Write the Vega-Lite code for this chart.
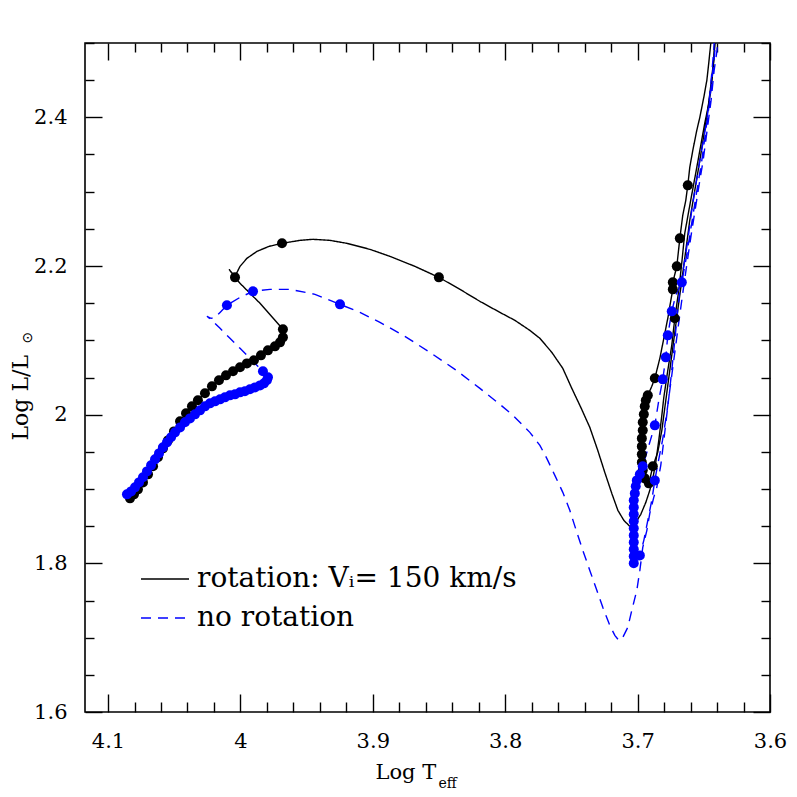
{
"$schema": "https://vega.github.io/schema/vega-lite/v6.json",
"width": 685, "height": 669,
"autosize": {"type": "none"},
"padding": {"left": 85, "top": 43, "right": 27, "bottom": 85},
"background": "white",
"config": {
 "view": {"stroke": "black", "strokeWidth": 1.6},
 "axis": {"labelFont": "DejaVu Serif", "labelFontSize": 21, "labelColor": "black", "tickColor": "black", "tickWidth": 1.4, "domain": false, "grid": false, "titleFont": "DejaVu Serif", "titleFontSize": 21, "titleFontWeight": "normal", "titleColor": "black", "labelFlush": false, "labelOverlap": false, "labelBound": false}
},
"data": {"values": [
{"t":"rot","s":"r1","i":1,"x":4.0834,"y":1.8874,"d":1},
{"t":"rot","s":"r1","i":2,"x":4.0804,"y":1.8928,"d":1},
{"t":"rot","s":"r1","i":3,"x":4.0774,"y":1.8995,"d":1},
{"t":"rot","s":"r1","i":4,"x":4.0736,"y":1.9089,"d":1},
{"t":"rot","s":"r1","i":5,"x":4.0698,"y":1.9197,"d":1},
{"t":"rot","s":"r1","i":6,"x":4.0660,"y":1.9305,"d":1},
{"t":"rot","s":"r1","i":7,"x":4.0623,"y":1.9426,"d":1},
{"t":"rot","s":"r1","i":8,"x":4.0585,"y":1.9547,"d":1},
{"t":"rot","s":"r1","i":9,"x":4.0547,"y":1.9654,"d":1},
{"t":"rot","s":"r1","i":10,"x":4.0502,"y":1.9775,"d":1},
{"t":"rot","s":"r1","i":11,"x":4.0456,"y":1.9910,"d":1},
{"t":"rot","s":"r1","i":12,"x":4.0411,"y":2.0018,"d":1},
{"t":"rot","s":"r1","i":13,"x":4.0366,"y":2.0112,"d":1},
{"t":"rot","s":"r1","i":14,"x":4.0321,"y":2.0193,"d":1},
{"t":"rot","s":"r1","i":15,"x":4.0268,"y":2.0287,"d":1},
{"t":"rot","s":"r1","i":16,"x":4.0215,"y":2.0381,"d":1},
{"t":"rot","s":"r1","i":17,"x":4.0162,"y":2.0462,"d":1},
{"t":"rot","s":"r1","i":18,"x":4.0109,"y":2.0529,"d":1},
{"t":"rot","s":"r1","i":19,"x":4.0056,"y":2.0583,"d":1},
{"t":"rot","s":"r1","i":20,"x":4.0003,"y":2.0637,"d":1},
{"t":"rot","s":"r1","i":21,"x":3.9951,"y":2.0690,"d":1},
{"t":"rot","s":"r1","i":22,"x":3.9898,"y":2.0731,"d":1},
{"t":"rot","s":"r1","i":23,"x":3.9845,"y":2.0798,"d":1},
{"t":"rot","s":"r1","i":24,"x":3.9792,"y":2.0865,"d":1},
{"t":"rot","s":"r1","i":25,"x":3.9739,"y":2.0919,"d":1},
{"t":"rot","s":"r1","i":26,"x":3.9701,"y":2.0973,"d":1},
{"t":"rot","s":"r1","i":27,"x":3.9679,"y":2.1040,"d":1},
{"t":"rot","s":"r1","i":28,"x":3.9679,"y":2.1148,"d":1},
{"t":"rot","s":"r1","i":29,"x":3.9852,"y":2.1498,"d":0},
{"t":"rot","s":"r1","i":30,"x":4.0003,"y":2.1767,"d":0},
{"t":"rot","s":"r1","i":31,"x":4.0041,"y":2.1847,"d":1},
{"t":"rot","s":"r1","i":32,"x":4.0086,"y":2.1955,"d":0},
{"t":"rot","s":"r1","i":33,"x":4.0041,"y":2.1861,"d":0},
{"t":"rot","s":"r1","i":34,"x":4.0003,"y":2.1995,"d":0},
{"t":"rot","s":"r1","i":35,"x":3.9951,"y":2.2103,"d":0},
{"t":"rot","s":"r1","i":36,"x":3.9875,"y":2.2197,"d":0},
{"t":"rot","s":"r1","i":37,"x":3.9784,"y":2.2264,"d":0},
{"t":"rot","s":"r1","i":38,"x":3.9686,"y":2.2305,"d":1},
{"t":"rot","s":"r1","i":39,"x":3.9550,"y":2.2345,"d":0},
{"t":"rot","s":"r1","i":40,"x":3.9452,"y":2.2359,"d":0},
{"t":"rot","s":"r1","i":41,"x":3.9324,"y":2.2345,"d":0},
{"t":"rot","s":"r1","i":42,"x":3.9196,"y":2.2305,"d":0},
{"t":"rot","s":"r1","i":43,"x":3.9022,"y":2.2224,"d":0},
{"t":"rot","s":"r1","i":44,"x":3.8871,"y":2.2130,"d":0},
{"t":"rot","s":"r1","i":45,"x":3.8682,"y":2.1995,"d":0},
{"t":"rot","s":"r1","i":46,"x":3.8501,"y":2.1847,"d":1},
{"t":"rot","s":"r1","i":47,"x":3.8342,"y":2.1686,"d":0},
{"t":"rot","s":"r1","i":48,"x":3.8191,"y":2.1524,"d":0},
{"t":"rot","s":"r1","i":49,"x":3.8040,"y":2.1376,"d":0},
{"t":"rot","s":"r1","i":50,"x":3.7927,"y":2.1269,"d":0},
{"t":"rot","s":"r1","i":51,"x":3.7814,"y":2.1134,"d":0},
{"t":"rot","s":"r1","i":52,"x":3.7738,"y":2.1027,"d":0},
{"t":"rot","s":"r1","i":53,"x":3.7648,"y":2.0838,"d":0},
{"t":"rot","s":"r1","i":54,"x":3.7565,"y":2.0623,"d":0},
{"t":"rot","s":"r1","i":55,"x":3.7497,"y":2.0354,"d":0},
{"t":"rot","s":"r1","i":56,"x":3.7429,"y":2.0098,"d":0},
{"t":"rot","s":"r1","i":57,"x":3.7361,"y":1.9829,"d":0},
{"t":"rot","s":"r1","i":58,"x":3.7301,"y":1.9520,"d":0},
{"t":"rot","s":"r1","i":59,"x":3.7248,"y":1.9224,"d":0},
{"t":"rot","s":"r1","i":60,"x":3.7195,"y":1.8941,"d":0},
{"t":"rot","s":"r1","i":61,"x":3.7149,"y":1.8713,"d":0},
{"t":"rot","s":"r1","i":62,"x":3.7104,"y":1.8578,"d":0},
{"t":"rot","s":"r1","i":63,"x":3.7059,"y":1.8498,"d":0},
{"t":"rot","s":"r1","i":64,"x":3.7014,"y":1.8551,"d":0},
{"t":"rot","s":"r1","i":65,"x":3.6976,"y":1.8659,"d":0},
{"t":"rot","s":"r1","i":66,"x":3.6938,"y":1.8820,"d":0},
{"t":"rot","s":"r1","i":67,"x":3.6908,"y":1.8982,"d":0},
{"t":"rot","s":"r1","i":68,"x":3.6885,"y":1.9143,"d":0},
{"t":"rot","s":"r1","i":69,"x":3.6863,"y":1.9358,"d":0},
{"t":"rot","s":"r1","i":70,"x":3.6840,"y":1.9654,"d":0},
{"t":"rot","s":"r1","i":71,"x":3.6817,"y":1.9991,"d":0},
{"t":"rot","s":"r1","i":72,"x":3.6802,"y":2.0233,"d":0},
{"t":"rot","s":"r1","i":73,"x":3.6772,"y":2.0596,"d":0},
{"t":"rot","s":"r1","i":74,"x":3.6742,"y":2.0933,"d":0},
{"t":"rot","s":"r1","i":75,"x":3.6719,"y":2.1296,"d":1},
{"t":"rot","s":"r1","i":76,"x":3.6689,"y":2.1672,"d":0},
{"t":"rot","s":"r1","i":77,"x":3.6666,"y":2.2049,"d":0},
{"t":"rot","s":"r1","i":78,"x":3.6644,"y":2.2439,"d":0},
{"t":"rot","s":"r1","i":79,"x":3.6599,"y":2.2883,"d":0},
{"t":"rot","s":"r1","i":80,"x":3.6553,"y":2.3327,"d":0},
{"t":"rot","s":"r1","i":81,"x":3.6523,"y":2.3623,"d":0},
{"t":"rot","s":"r1","i":82,"x":3.6493,"y":2.3919,"d":0},
{"t":"rot","s":"r1","i":83,"x":3.6462,"y":2.4188,"d":0},
{"t":"rot","s":"r1","i":84,"x":3.6440,"y":2.4457,"d":0},
{"t":"rot","s":"r1","i":85,"x":3.6425,"y":2.4767,"d":0},
{"t":"rot","s":"r1","i":86,"x":3.6417,"y":2.5000,"d":0},
{"t":"rot","s":"r1","i":87,"x":3.6406,"y":2.5200,"d":0},
{"t":"rot","s":"r2","i":88,"x":3.6410,"y":2.5171,"d":0},
{"t":"rot","s":"r2","i":89,"x":3.6425,"y":2.4767,"d":0},
{"t":"rot","s":"r2","i":90,"x":3.6447,"y":2.4430,"d":0},
{"t":"rot","s":"r2","i":91,"x":3.6470,"y":2.4094,"d":0},
{"t":"rot","s":"r2","i":92,"x":3.6500,"y":2.3758,"d":0},
{"t":"rot","s":"r2","i":93,"x":3.6530,"y":2.3421,"d":0},
{"t":"rot","s":"r2","i":94,"x":3.6568,"y":2.3018,"d":0},
{"t":"rot","s":"r2","i":95,"x":3.6606,"y":2.2614,"d":0},
{"t":"rot","s":"r2","i":96,"x":3.6636,"y":2.2211,"d":0},
{"t":"rot","s":"r2","i":97,"x":3.6666,"y":2.1807,"d":0},
{"t":"rot","s":"r2","i":98,"x":3.6697,"y":2.1403,"d":0},
{"t":"rot","s":"r2","i":99,"x":3.6727,"y":2.1000,"d":0},
{"t":"rot","s":"r2","i":100,"x":3.6757,"y":2.0596,"d":0},
{"t":"rot","s":"r2","i":101,"x":3.6787,"y":2.0193,"d":0},
{"t":"rot","s":"r2","i":102,"x":3.6817,"y":1.9789,"d":0},
{"t":"rot","s":"r2","i":103,"x":3.6848,"y":1.9493,"d":0},
{"t":"rot","s":"r2","i":104,"x":3.6885,"y":1.9305,"d":1},
{"t":"rot","s":"r2","i":105,"x":3.6915,"y":1.9076,"d":1},
{"t":"rot","s":"r2","i":106,"x":3.6946,"y":1.9143,"d":1},
{"t":"rot","s":"r2","i":107,"x":3.6961,"y":1.9251,"d":1},
{"t":"rot","s":"r2","i":108,"x":3.6968,"y":1.9358,"d":1},
{"t":"rot","s":"r2","i":109,"x":3.6968,"y":1.9466,"d":1},
{"t":"rot","s":"r2","i":110,"x":3.6968,"y":1.9573,"d":1},
{"t":"rot","s":"r2","i":111,"x":3.6968,"y":1.9681,"d":1},
{"t":"rot","s":"r2","i":112,"x":3.6961,"y":1.9789,"d":1},
{"t":"rot","s":"r2","i":113,"x":3.6961,"y":1.9897,"d":1},
{"t":"rot","s":"r2","i":114,"x":3.6953,"y":2.0004,"d":1},
{"t":"rot","s":"r2","i":115,"x":3.6946,"y":2.0112,"d":1},
{"t":"rot","s":"r2","i":116,"x":3.6938,"y":2.0193,"d":1},
{"t":"rot","s":"r2","i":117,"x":3.6923,"y":2.0260,"d":1},
{"t":"rot","s":"r2","i":118,"x":3.6893,"y":2.0381,"d":0},
{"t":"rot","s":"r2","i":119,"x":3.6870,"y":2.0489,"d":1},
{"t":"rot","s":"r2","i":120,"x":3.6832,"y":2.0758,"d":0},
{"t":"rot","s":"r2","i":121,"x":3.6802,"y":2.1027,"d":0},
{"t":"rot","s":"r2","i":122,"x":3.6772,"y":2.1296,"d":0},
{"t":"rot","s":"r2","i":123,"x":3.6749,"y":2.1538,"d":0},
{"t":"rot","s":"r2","i":124,"x":3.6734,"y":2.1686,"d":1},
{"t":"rot","s":"r2","i":125,"x":3.6734,"y":2.1780,"d":1},
{"t":"rot","s":"r2","i":126,"x":3.6704,"y":2.1995,"d":1},
{"t":"rot","s":"r2","i":127,"x":3.6681,"y":2.2372,"d":1},
{"t":"rot","s":"r2","i":128,"x":3.6659,"y":2.2682,"d":0},
{"t":"rot","s":"r2","i":129,"x":3.6636,"y":2.2883,"d":0},
{"t":"rot","s":"r2","i":130,"x":3.6621,"y":2.3085,"d":1},
{"t":"rot","s":"r2","i":131,"x":3.6606,"y":2.3327,"d":0},
{"t":"rot","s":"r2","i":132,"x":3.6583,"y":2.3556,"d":0},
{"t":"rot","s":"r2","i":133,"x":3.6553,"y":2.3825,"d":0},
{"t":"rot","s":"r2","i":134,"x":3.6530,"y":2.4000,"d":0},
{"t":"rot","s":"r2","i":135,"x":3.6500,"y":2.4269,"d":0},
{"t":"rot","s":"r2","i":136,"x":3.6477,"y":2.4498,"d":0},
{"t":"rot","s":"r2","i":137,"x":3.6462,"y":2.4740,"d":0},
{"t":"rot","s":"r2","i":138,"x":3.6447,"y":2.5000,"d":0},
{"t":"rot","s":"r2","i":139,"x":3.6440,"y":2.5171,"d":0},
{"t":"norot","s":"n1","i":140,"x":4.0857,"y":1.8928,"d":1},
{"t":"norot","s":"n1","i":141,"x":4.0826,"y":1.8968,"d":1},
{"t":"norot","s":"n1","i":142,"x":4.0796,"y":1.9022,"d":1},
{"t":"norot","s":"n1","i":143,"x":4.0766,"y":1.9089,"d":1},
{"t":"norot","s":"n1","i":144,"x":4.0736,"y":1.9157,"d":1},
{"t":"norot","s":"n1","i":145,"x":4.0706,"y":1.9237,"d":1},
{"t":"norot","s":"n1","i":146,"x":4.0675,"y":1.9318,"d":1},
{"t":"norot","s":"n1","i":147,"x":4.0645,"y":1.9399,"d":1},
{"t":"norot","s":"n1","i":148,"x":4.0615,"y":1.9479,"d":1},
{"t":"norot","s":"n1","i":149,"x":4.0585,"y":1.9560,"d":1},
{"t":"norot","s":"n1","i":150,"x":4.0555,"y":1.9627,"d":1},
{"t":"norot","s":"n1","i":151,"x":4.0524,"y":1.9695,"d":1},
{"t":"norot","s":"n1","i":152,"x":4.0494,"y":1.9762,"d":1},
{"t":"norot","s":"n1","i":153,"x":4.0456,"y":1.9829,"d":1},
{"t":"norot","s":"n1","i":154,"x":4.0419,"y":1.9897,"d":1},
{"t":"norot","s":"n1","i":155,"x":4.0381,"y":1.9950,"d":1},
{"t":"norot","s":"n1","i":156,"x":4.0343,"y":2.0004,"d":1},
{"t":"norot","s":"n1","i":157,"x":4.0305,"y":2.0058,"d":1},
{"t":"norot","s":"n1","i":158,"x":4.0268,"y":2.0112,"d":1},
{"t":"norot","s":"n1","i":159,"x":4.0230,"y":2.0152,"d":1},
{"t":"norot","s":"n1","i":160,"x":4.0192,"y":2.0179,"d":1},
{"t":"norot","s":"n1","i":161,"x":4.0154,"y":2.0206,"d":1},
{"t":"norot","s":"n1","i":162,"x":4.0117,"y":2.0233,"d":1},
{"t":"norot","s":"n1","i":163,"x":4.0079,"y":2.0260,"d":1},
{"t":"norot","s":"n1","i":164,"x":4.0041,"y":2.0273,"d":1},
{"t":"norot","s":"n1","i":165,"x":4.0003,"y":2.0300,"d":1},
{"t":"norot","s":"n1","i":166,"x":3.9966,"y":2.0314,"d":1},
{"t":"norot","s":"n1","i":167,"x":3.9928,"y":2.0341,"d":1},
{"t":"norot","s":"n1","i":168,"x":3.9890,"y":2.0367,"d":1},
{"t":"norot","s":"n1","i":169,"x":3.9852,"y":2.0394,"d":1},
{"t":"norot","s":"n1","i":170,"x":3.9822,"y":2.0421,"d":1},
{"t":"norot","s":"n1","i":171,"x":3.9800,"y":2.0462,"d":1},
{"t":"norot","s":"n1","i":172,"x":3.9792,"y":2.0502,"d":1},
{"t":"norot","s":"n1","i":173,"x":3.9830,"y":2.0583,"d":1},
{"t":"norot","s":"n1","i":174,"x":3.9868,"y":2.0650,"d":0},
{"t":"norot","s":"n1","i":175,"x":3.9928,"y":2.0758,"d":0},
{"t":"norot","s":"n1","i":176,"x":4.0003,"y":2.0892,"d":0},
{"t":"norot","s":"n1","i":177,"x":4.0079,"y":2.1027,"d":0},
{"t":"norot","s":"n1","i":178,"x":4.0154,"y":2.1161,"d":0},
{"t":"norot","s":"n1","i":179,"x":4.0207,"y":2.1255,"d":0},
{"t":"norot","s":"n1","i":180,"x":4.0253,"y":2.1323,"d":0},
{"t":"norot","s":"n1","i":181,"x":4.0222,"y":2.1296,"d":0},
{"t":"norot","s":"n1","i":182,"x":4.0192,"y":2.1309,"d":0},
{"t":"norot","s":"n1","i":183,"x":4.0154,"y":2.1376,"d":0},
{"t":"norot","s":"n1","i":184,"x":4.0102,"y":2.1471,"d":1},
{"t":"norot","s":"n1","i":185,"x":4.0003,"y":2.1578,"d":0},
{"t":"norot","s":"n1","i":186,"x":3.9905,"y":2.1659,"d":1},
{"t":"norot","s":"n1","i":187,"x":3.9777,"y":2.1686,"d":0},
{"t":"norot","s":"n1","i":188,"x":3.9626,"y":2.1686,"d":0},
{"t":"norot","s":"n1","i":189,"x":3.9437,"y":2.1619,"d":0},
{"t":"norot","s":"n1","i":190,"x":3.9248,"y":2.1484,"d":1},
{"t":"norot","s":"n1","i":191,"x":3.9097,"y":2.1376,"d":0},
{"t":"norot","s":"n1","i":192,"x":3.8946,"y":2.1242,"d":0},
{"t":"norot","s":"n1","i":193,"x":3.8758,"y":2.1054,"d":0},
{"t":"norot","s":"n1","i":194,"x":3.8569,"y":2.0838,"d":0},
{"t":"norot","s":"n1","i":195,"x":3.8380,"y":2.0610,"d":0},
{"t":"norot","s":"n1","i":196,"x":3.8191,"y":2.0354,"d":0},
{"t":"norot","s":"n1","i":197,"x":3.8040,"y":2.0139,"d":0},
{"t":"norot","s":"n1","i":198,"x":3.7942,"y":1.9991,"d":0},
{"t":"norot","s":"n1","i":199,"x":3.7814,"y":1.9762,"d":0},
{"t":"norot","s":"n1","i":200,"x":3.7738,"y":1.9587,"d":0},
{"t":"norot","s":"n1","i":201,"x":3.7686,"y":1.9412,"d":0},
{"t":"norot","s":"n1","i":202,"x":3.7625,"y":1.9183,"d":0},
{"t":"norot","s":"n1","i":203,"x":3.7565,"y":1.8955,"d":0},
{"t":"norot","s":"n1","i":204,"x":3.7512,"y":1.8713,"d":0},
{"t":"norot","s":"n1","i":205,"x":3.7459,"y":1.8417,"d":0},
{"t":"norot","s":"n1","i":206,"x":3.7414,"y":1.8175,"d":0},
{"t":"norot","s":"n1","i":207,"x":3.7361,"y":1.7905,"d":0},
{"t":"norot","s":"n1","i":208,"x":3.7308,"y":1.7637,"d":0},
{"t":"norot","s":"n1","i":209,"x":3.7263,"y":1.7408,"d":0},
{"t":"norot","s":"n1","i":210,"x":3.7210,"y":1.7165,"d":0},
{"t":"norot","s":"n1","i":211,"x":3.7172,"y":1.7031,"d":0},
{"t":"norot","s":"n1","i":212,"x":3.7142,"y":1.6964,"d":0},
{"t":"norot","s":"n1","i":213,"x":3.7112,"y":1.7004,"d":0},
{"t":"norot","s":"n1","i":214,"x":3.7074,"y":1.7139,"d":0},
{"t":"norot","s":"n1","i":215,"x":3.7044,"y":1.7367,"d":0},
{"t":"norot","s":"n1","i":216,"x":3.7006,"y":1.7637,"d":0},
{"t":"norot","s":"n1","i":217,"x":3.6983,"y":1.7905,"d":0},
{"t":"norot","s":"n1","i":218,"x":3.6961,"y":1.8215,"d":0},
{"t":"norot","s":"n1","i":219,"x":3.6930,"y":1.8444,"d":0},
{"t":"norot","s":"n1","i":220,"x":3.6908,"y":1.8672,"d":0},
{"t":"norot","s":"n1","i":221,"x":3.6878,"y":1.8887,"d":0},
{"t":"norot","s":"n1","i":222,"x":3.6855,"y":1.9022,"d":0},
{"t":"norot","s":"n1","i":223,"x":3.6825,"y":1.9318,"d":0},
{"t":"norot","s":"n1","i":224,"x":3.6802,"y":1.9654,"d":0},
{"t":"norot","s":"n1","i":225,"x":3.6780,"y":1.9991,"d":0},
{"t":"norot","s":"n1","i":226,"x":3.6764,"y":2.0233,"d":0},
{"t":"norot","s":"n1","i":227,"x":3.6742,"y":2.0596,"d":0},
{"t":"norot","s":"n1","i":228,"x":3.6719,"y":2.1000,"d":0},
{"t":"norot","s":"n1","i":229,"x":3.6697,"y":2.1403,"d":0},
{"t":"norot","s":"n1","i":230,"x":3.6674,"y":2.1780,"d":0},
{"t":"norot","s":"n1","i":231,"x":3.6644,"y":2.2076,"d":0},
{"t":"norot","s":"n1","i":232,"x":3.6621,"y":2.2345,"d":0},
{"t":"norot","s":"n1","i":233,"x":3.6591,"y":2.2749,"d":0},
{"t":"norot","s":"n1","i":234,"x":3.6561,"y":2.3085,"d":0},
{"t":"norot","s":"n1","i":235,"x":3.6530,"y":2.3421,"d":0},
{"t":"norot","s":"n1","i":236,"x":3.6500,"y":2.3717,"d":0},
{"t":"norot","s":"n1","i":237,"x":3.6477,"y":2.3960,"d":0},
{"t":"norot","s":"n1","i":238,"x":3.6455,"y":2.4296,"d":0},
{"t":"norot","s":"n1","i":239,"x":3.6440,"y":2.4592,"d":0},
{"t":"norot","s":"n1","i":240,"x":3.6425,"y":2.4901,"d":0},
{"t":"norot","s":"n1","i":241,"x":3.6417,"y":2.5171,"d":0},
{"t":"norot","s":"n2","i":242,"x":3.6392,"y":2.5171,"d":0},
{"t":"norot","s":"n2","i":243,"x":3.6400,"y":2.4901,"d":0},
{"t":"norot","s":"n2","i":244,"x":3.6422,"y":2.4632,"d":0},
{"t":"norot","s":"n2","i":245,"x":3.6445,"y":2.4229,"d":0},
{"t":"norot","s":"n2","i":246,"x":3.6475,"y":2.3825,"d":0},
{"t":"norot","s":"n2","i":247,"x":3.6505,"y":2.3421,"d":0},
{"t":"norot","s":"n2","i":248,"x":3.6536,"y":2.3085,"d":0},
{"t":"norot","s":"n2","i":249,"x":3.6566,"y":2.2749,"d":0},
{"t":"norot","s":"n2","i":250,"x":3.6596,"y":2.2412,"d":0},
{"t":"norot","s":"n2","i":251,"x":3.6626,"y":2.2049,"d":0},
{"t":"norot","s":"n2","i":252,"x":3.6656,"y":2.1672,"d":0},
{"t":"norot","s":"n2","i":253,"x":3.6687,"y":2.1269,"d":0},
{"t":"norot","s":"n2","i":254,"x":3.6717,"y":2.0865,"d":0},
{"t":"norot","s":"n2","i":255,"x":3.6747,"y":2.0462,"d":0},
{"t":"norot","s":"n2","i":256,"x":3.6777,"y":2.0058,"d":0},
{"t":"norot","s":"n2","i":257,"x":3.6812,"y":1.9654,"d":0},
{"t":"norot","s":"n2","i":258,"x":3.6845,"y":1.9358,"d":0},
{"t":"norot","s":"n2","i":259,"x":3.6870,"y":1.9116,"d":1},
{"t":"norot","s":"n2","i":260,"x":3.6893,"y":1.8847,"d":0},
{"t":"norot","s":"n2","i":261,"x":3.6923,"y":1.8578,"d":0},
{"t":"norot","s":"n2","i":262,"x":3.6953,"y":1.8309,"d":0},
{"t":"norot","s":"n2","i":263,"x":3.6983,"y":1.8107,"d":1},
{"t":"norot","s":"n2","i":264,"x":3.7006,"y":1.8013,"d":0},
{"t":"norot","s":"n2","i":265,"x":3.7029,"y":1.8000,"d":1},
{"t":"norot","s":"n2","i":266,"x":3.7029,"y":1.8094,"d":1},
{"t":"norot","s":"n2","i":267,"x":3.7029,"y":1.8188,"d":1},
{"t":"norot","s":"n2","i":268,"x":3.7029,"y":1.8282,"d":1},
{"t":"norot","s":"n2","i":269,"x":3.7029,"y":1.8376,"d":1},
{"t":"norot","s":"n2","i":270,"x":3.7029,"y":1.8471,"d":1},
{"t":"norot","s":"n2","i":271,"x":3.7029,"y":1.8565,"d":1},
{"t":"norot","s":"n2","i":272,"x":3.7029,"y":1.8659,"d":1},
{"t":"norot","s":"n2","i":273,"x":3.7029,"y":1.8753,"d":1},
{"t":"norot","s":"n2","i":274,"x":3.7029,"y":1.8847,"d":1},
{"t":"norot","s":"n2","i":275,"x":3.7021,"y":1.8941,"d":1},
{"t":"norot","s":"n2","i":276,"x":3.7014,"y":1.9036,"d":1},
{"t":"norot","s":"n2","i":277,"x":3.7006,"y":1.9116,"d":1},
{"t":"norot","s":"n2","i":278,"x":3.6983,"y":1.9197,"d":1},
{"t":"norot","s":"n2","i":279,"x":3.6961,"y":1.9305,"d":1},
{"t":"norot","s":"n2","i":280,"x":3.6915,"y":1.9587,"d":0},
{"t":"norot","s":"n2","i":281,"x":3.6870,"y":1.9856,"d":1},
{"t":"norot","s":"n2","i":282,"x":3.6840,"y":2.0193,"d":0},
{"t":"norot","s":"n2","i":283,"x":3.6810,"y":2.0475,"d":1},
{"t":"norot","s":"n2","i":284,"x":3.6787,"y":2.0771,"d":1},
{"t":"norot","s":"n2","i":285,"x":3.6772,"y":2.1067,"d":1},
{"t":"norot","s":"n2","i":286,"x":3.6742,"y":2.1390,"d":1},
{"t":"norot","s":"n2","i":287,"x":3.6712,"y":2.1605,"d":0},
{"t":"norot","s":"n2","i":288,"x":3.6666,"y":2.1780,"d":1},
{"t":"norot","s":"n2","i":289,"x":3.6636,"y":2.2076,"d":0},
{"t":"norot","s":"n2","i":290,"x":3.6606,"y":2.2412,"d":0},
{"t":"norot","s":"n2","i":291,"x":3.6576,"y":2.2749,"d":0},
{"t":"norot","s":"n2","i":292,"x":3.6546,"y":2.3085,"d":0},
{"t":"norot","s":"n2","i":293,"x":3.6515,"y":2.3421,"d":0},
{"t":"norot","s":"n2","i":294,"x":3.6485,"y":2.3825,"d":0},
{"t":"norot","s":"n2","i":295,"x":3.6455,"y":2.4229,"d":0},
{"t":"norot","s":"n2","i":296,"x":3.6432,"y":2.4632,"d":0},
{"t":"norot","s":"n2","i":297,"x":3.6410,"y":2.5000,"d":0},
{"t":"norot","s":"n2","i":298,"x":3.6402,"y":2.5171,"d":0}
]},
"layer": [
 {
  "mark": {"type": "line", "strokeWidth": 1.4, "clip": true},
  "encoding": {
   "x": {"field": "x", "type": "quantitative",
     "scale": {"domain": [4.1174, 3.6], "nice": false, "zero": false},
     "axis": {"orient": "bottom",
       "values": [3.6,3.62,3.64,3.66,3.68,3.7,3.72,3.74,3.76,3.78,3.8,3.82,3.84,3.86,3.88,3.9,3.92,3.94,3.96,3.98,4,4.02,4.04,4.06,4.08,4.1],
       "tickSize": {"condition": {"test": "abs(datum.value*10-round(datum.value*10))<0.001", "value": -18}, "value": -10},
       "labelExpr": "abs(datum.value*10-round(datum.value*10))<0.001 ? toString(round(datum.value*10)/10) : ''",
       "labelPadding": 36,
       "title": "Log T", "titleX": 290, "titleY": 66, "titleAlign": "left", "titleBaseline": "alphabetic", "titleAngle": 0}},
   "y": {"field": "y", "type": "quantitative",
     "scale": {"domain": [1.6, 2.5], "nice": false, "zero": false},
     "axis": {"orient": "left",
       "values": [1.6,1.65,1.7,1.75,1.8,1.85,1.9,1.95,2,2.05,2.1,2.15,2.2,2.25,2.3,2.35,2.4,2.45,2.5],
       "tickSize": {"condition": {"test": "abs(datum.value*5-round(datum.value*5))<0.001", "value": -17}, "value": -9},
       "labelExpr": "abs(datum.value*5-round(datum.value*5))<0.001 ? toString(round(datum.value*10)/10) : ''",
       "labelPadding": 35,
       "title": "Log L/L", "titleX": -58, "titleY": 397, "titleAngle": 270, "titleAlign": "left", "titleBaseline": "alphabetic", "titleFontSize": 22}},
   "detail": {"field": "s"},
   "order": {"field": "i", "type": "quantitative"},
   "color": {"field": "t", "type": "nominal",
     "scale": {"domain": ["rot", "norot"], "range": ["#000000", "#0000ff"]},
     "legend": {"orient": "none", "legendX": 55, "legendY": 511, "title": null, "symbolType": "stroke", "symbolSize": 2304, "symbolStrokeWidth": 1.5, "labelFont": "DejaVu Serif", "labelFontSize": 28, "labelColor": "black", "labelOffset": 7, "labelLimit": 0, "padding": 0, "rowPadding": -12,
       "labelExpr": "datum.label == 'rot' ? 'rotation: Vᵢ= 150 km/s' : 'no rotation'"}},
   "strokeDash": {"field": "t", "type": "nominal",
     "scale": {"domain": ["rot", "norot"], "range": [[1, 0], [10, 7]]},
     "legend": {"orient": "none", "legendX": 55, "legendY": 511, "title": null, "symbolType": "stroke", "symbolSize": 2304, "symbolStrokeWidth": 1.5, "labelFont": "DejaVu Serif", "labelFontSize": 28, "labelColor": "black", "labelOffset": 7, "labelLimit": 0, "padding": 0, "rowPadding": -12,
       "labelExpr": "datum.label == 'rot' ? 'rotation: Vᵢ= 150 km/s' : 'no rotation'"}}
  }
 },
 {
  "transform": [{"filter": "datum.d == 1"}],
  "mark": {"type": "point", "filled": true, "size": 100, "opacity": 1, "strokeWidth": 0, "clip": true},
  "encoding": {
   "x": {"field": "x", "type": "quantitative",
     "scale": {"domain": [4.1174, 3.6], "nice": false, "zero": false},
     "axis": {"orient": "top",
       "values": [3.6,3.62,3.64,3.66,3.68,3.7,3.72,3.74,3.76,3.78,3.8,3.82,3.84,3.86,3.88,3.9,3.92,3.94,3.96,3.98,4,4.02,4.04,4.06,4.08,4.1],
       "tickSize": {"condition": {"test": "abs(datum.value*10-round(datum.value*10))<0.001", "value": -17}, "value": -9},
       "labels": false,
       "title": "eff", "titleX": 353, "titleY": 744, "titleAlign": "left", "titleBaseline": "alphabetic", "titleFontSize": 14, "titleAngle": 0}},
   "y": {"field": "y", "type": "quantitative",
     "scale": {"domain": [1.6, 2.5], "nice": false, "zero": false},
     "axis": {"orient": "right",
       "values": [1.6,1.65,1.7,1.75,1.8,1.85,1.9,1.95,2,2.05,2.1,2.15,2.2,2.25,2.3,2.35,2.4,2.45,2.5],
       "tickSize": {"condition": {"test": "abs(datum.value*5-round(datum.value*5))<0.001", "value": -17}, "value": -9},
       "labels": false,
       "title": "⊙", "titleFont": "DejaVu Sans", "titleX": -739, "titleY": 300, "titleAngle": 270, "titleAlign": "left", "titleBaseline": "alphabetic", "titleFontSize": 14}},
   "fill": {"field": "t", "type": "nominal",
     "scale": {"domain": ["rot", "norot"], "range": ["#000000", "#0000ff"]},
     "legend": null}
  }
 }
],
"resolve": {"scale": {"x": "independent", "y": "independent"}, "axis": {"x": "independent", "y": "independent"}}
}
